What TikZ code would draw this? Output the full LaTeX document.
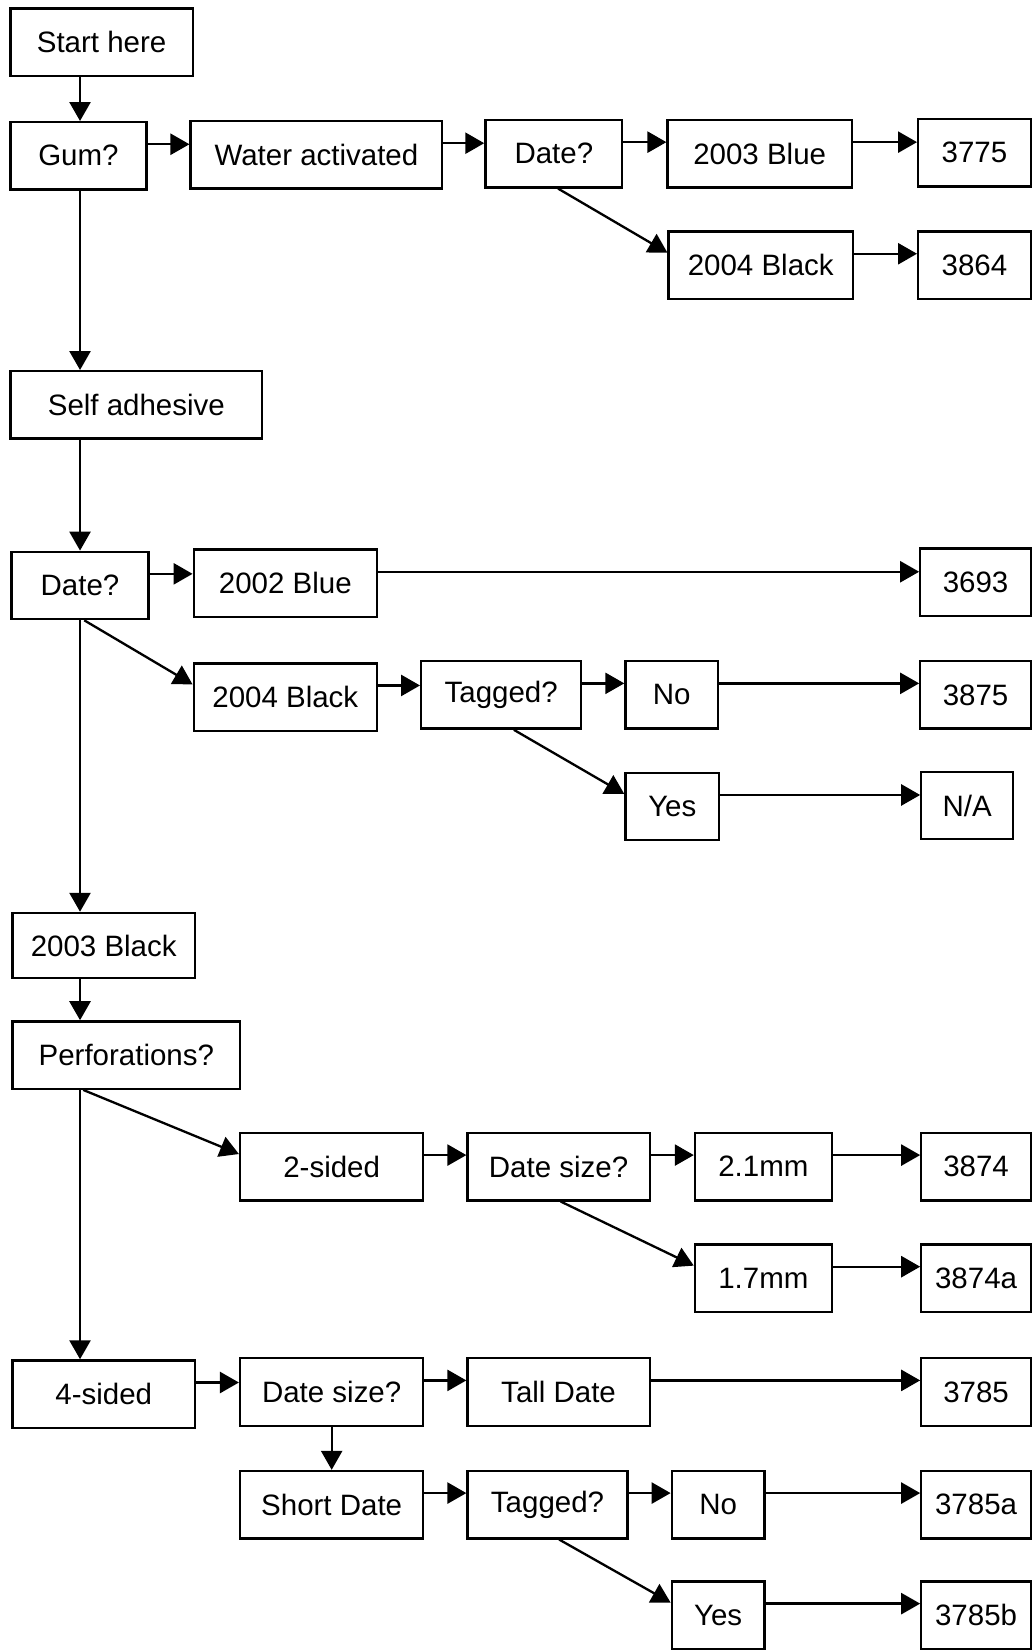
\documentclass[tikz,border=0pt]{standalone}
\usepackage{fontspec}
\setmainfont{Liberation Sans}
\usepackage{tikz}
\usetikzlibrary{arrows.meta}
\tikzset{
    stamp-box/.style = {draw, line width=1.1pt, rectangle, minimum height=32pt, inner sep=2pt, font=\fontsize{14}{16}\selectfont},
    flow-arrow/.style = {line width=1.1pt, -{Triangle[length=9pt, width=10pt]}},
}
\begin{document}
\begin{tikzpicture}[x=0.5pt, y=-0.5pt]
\useasboundingbox (0,0) rectangle (981,1568);
\coordinate (trunk) at (76,0);
% water activated branch
\node[stamp-box, minimum width=86.5pt] (start) at (96.5,40) {Start here};
\node[stamp-box, minimum width=64.5pt] (gum) at (74.5,148) {Gum?};
\node[stamp-box, minimum width=119.5pt] (water) at (300.5,147) {Water activated};
\node[stamp-box, minimum width=65pt] (date-wa) at (526,146) {Date?};
\node[stamp-box, minimum width=87.5pt] (blue-03) at (721.5,146) {2003 Blue};
\node[stamp-box, minimum width=53.5pt] (n3775) at (925.5,145) {3775};
\node[stamp-box, minimum width=87.5pt] (black-04-wa) at (722.5,252) {2004 Black};
\node[stamp-box, minimum width=53.5pt] (n3864) at (925.5,252) {3864};
% self adhesive branch
\node[stamp-box, minimum width=119.5pt] (self) at (129.5,384.5) {Self adhesive};
\node[stamp-box, minimum width=65pt] (date-sa) at (76,556) {Date?};
\node[stamp-box, minimum width=87pt] (blue-02) at (271,554) {2002 Blue};
\node[stamp-box, minimum width=52.5pt] (n3693) at (926.5,553) {3693};
\node[stamp-box, minimum width=87pt] (black-04-sa) at (271,662) {2004 Black};
\node[stamp-box, minimum width=76pt] (tagged-sa) at (476,660) {Tagged?};
\node[stamp-box, minimum width=44pt] (no-sa) at (638,660) {No};
\node[stamp-box, minimum width=52.5pt] (n3875) at (926.5,660) {3875};
\node[stamp-box, minimum width=44.5pt] (yes-sa) at (638.5,766) {Yes};
\node[stamp-box, minimum width=43.5pt] (na) at (918.5,765) {N/A};
% 2003 black
\node[stamp-box, minimum width=86.5pt, minimum height=31pt] (black-03) at (98.5,898) {2003 Black};
\node[stamp-box, minimum width=108pt] (perf) at (120,1002) {Perforations?};
\node[stamp-box, minimum width=87pt] (two-sided) at (315,1108) {2-sided};
\node[stamp-box, minimum width=86.5pt] (size-2s) at (530.5,1108) {Date size?};
\node[stamp-box, minimum width=65pt] (mm21) at (725,1108) {2.1mm};
\node[stamp-box, minimum width=52pt] (n3874) at (927,1108) {3874};
\node[stamp-box, minimum width=65pt] (mm17) at (725,1214) {1.7mm};
\node[stamp-box, minimum width=52pt] (n3874a) at (927,1214) {3874a};
\node[stamp-box, minimum width=86.5pt] (four-sided) at (98.5,1324) {4-sided};
\node[stamp-box, minimum width=87pt] (size-4s) at (315,1322) {Date size?};
\node[stamp-box, minimum width=86.5pt] (tall) at (530.5,1322) {Tall Date};
\node[stamp-box, minimum width=52pt] (n3785) at (927,1322) {3785};
\node[stamp-box, minimum width=87pt] (short) at (315,1429) {Short Date};
\node[stamp-box, minimum width=76pt] (tagged-sd) at (520,1429) {Tagged?};
\node[stamp-box, minimum width=44pt] (no-sd) at (682,1429) {No};
\node[stamp-box, minimum width=52pt] (n3785a) at (927,1429) {3785a};
\node[stamp-box, minimum width=44pt] (yes-sd) at (682,1534) {Yes};
\node[stamp-box, minimum width=52pt] (n3785b) at (927,1534) {3785b};
% down the left side
\draw[flow-arrow] (start.south -| trunk) -- (gum.north -| trunk);
\draw[flow-arrow] (gum.south -| trunk) -- (self.north -| trunk);
\draw[flow-arrow] (self.south -| trunk) -- (date-sa.north -| trunk);
\draw[flow-arrow] (date-sa.south -| trunk) -- (black-03.north -| trunk);
\draw[flow-arrow] (black-03.south -| trunk) -- (perf.north -| trunk);
\draw[flow-arrow] (perf.south -| trunk) -- (four-sided.north -| trunk);
\draw[flow-arrow] (size-4s.south) -- (short.north);
% across
\foreach \a/\b in {gum/water, water/date-wa, date-wa/blue-03, blue-03/n3775, black-04-wa/n3864,
    date-sa/blue-02, blue-02/n3693, black-04-sa/tagged-sa, tagged-sa/no-sa, no-sa/n3875, yes-sa/na,
    two-sided/size-2s, size-2s/mm21, mm21/n3874, mm17/n3874a,
    four-sided/size-4s, size-4s/tall, tall/n3785, short/tagged-sd, tagged-sd/no-sd, no-sd/n3785a, yes-sd/n3785b}
    \draw[flow-arrow] ([yshift=5.5pt]\a.east) -- ([yshift=5.5pt]\a.east -| \b.west);
% slanted
\draw[flow-arrow] ([xshift=2pt]date-wa.south) -- ([yshift=6pt]black-04-wa.west);
\draw[flow-arrow] ([xshift=2pt]date-sa.south -| trunk) -- ([yshift=6pt]black-04-sa.west);
\draw[flow-arrow] ([xshift=6pt]tagged-sa.south) -- ([yshift=6pt]yes-sa.west);
\draw[flow-arrow] ([xshift=1.5pt]perf.south -| trunk) -- ([yshift=6pt]two-sided.west);
\draw[flow-arrow] ([xshift=1pt]size-2s.south) -- ([yshift=6pt]mm17.west);
\draw[flow-arrow] ([xshift=5.5pt]tagged-sd.south) -- ([yshift=6pt]yes-sd.west);
\end{tikzpicture}
\end{document}
